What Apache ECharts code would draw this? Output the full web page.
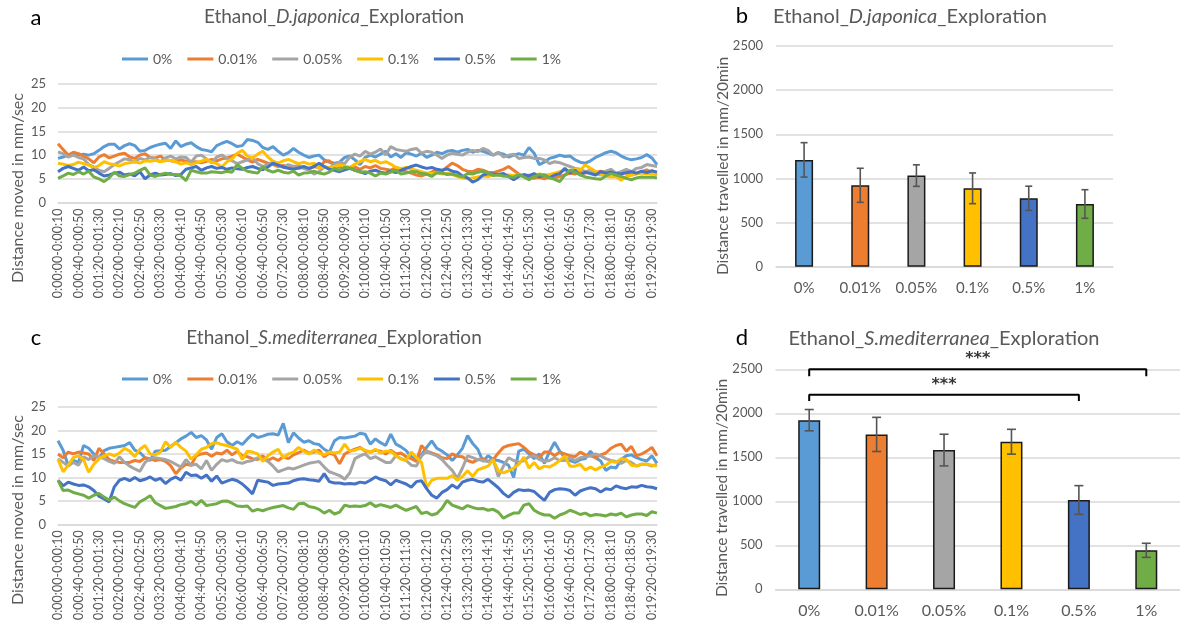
<!DOCTYPE html>
<html><head><meta charset="utf-8">
<script src="https://cdn.jsdelivr.net/npm/echarts@6/dist/echarts.min.js"></script>
<style>html,body{margin:0;padding:0;background:#fff}#c{width:1180px;height:623px}</style>
</head><body><div id="c"></div>
<script>
const concs = ['0%','0.01%','0.05%','0.1%','0.5%','1%'];
const colors = ['#5B9BD5','#ED7D31','#A5A5A5','#FFC000','#4472C4','#70AD47'];
const yTicksLine = [0,5,10,15,20,25];
const yTicksBar = [0,500,1000,1500,2000,2500];

// Panel a: D. japonica, mm/sec per 10 s bin
const a_0 = [9.3,9.6,10,10,10,10.2,10,10.3,11,11.8,12.3,12.3,11.3,12,12.4,12,10.8,11,11.6,12,12.3,12.5,11.4,13,11.8,12.3,12.6,11.8,11.2,11,10.7,12,12.5,12.9,12.4,11.8,12,13.3,13.1,12.7,11.6,11.2,11.8,10.8,10,10.5,11.4,10.6,10,9.5,9.8,10,9,8.5,8.3,8.5,9.5,9.8,9,8,9.5,10,9.6,10.2,10.8,9.6,10.3,9.5,10.5,10.2,9.8,10.4,9.5,10,10.6,10.3,10.8,11,10.6,11,11.2,10.6,11,10.8,10.4,10,10.5,10.2,9.6,10,10.3,10,11.6,10.4,8,8.5,9.3,9.6,10,9.7,9.8,9,8.5,8.3,8.8,9.5,10,10.5,10.8,10.5,9.8,9.3,9,9.2,9.5,10.1,9.4,8];
const a_001 = [12.4,11.2,10,10.6,10.3,9.8,9.2,8.4,9.6,10.1,9.4,9.8,10.2,10.4,9.6,9.3,10,10.3,9.5,9.4,9.8,9,8.8,8.6,9,8.7,8.4,8.6,8.4,8.7,9.1,8.8,9.2,9.4,9.8,10.2,9.6,9,8.5,9.1,8.7,8.3,8,7.6,7.8,7.4,7.5,7.2,7.4,7,7.6,7.3,8.6,8.8,7.8,7.5,7.6,7.2,7.5,7,7.6,7.3,7.8,7.2,7,6.8,7.4,6.9,6.5,6.2,5.8,5.6,6,6.4,7,6.6,7.5,8.3,7.8,7,6.6,6.5,7,6.8,6.4,6.3,6.6,7,7.6,6.8,6,5.6,5.3,5.1,5.3,5,5.4,5.2,5.5,5.8,6.2,6,6.4,6.2,6.5,6.3,6.6,6.4,6.2,6,6.4,6.2,5.8,6.1,6.5,6.9,6.3,5.8];
const a_005 = [10.7,10.3,9.6,10,9.5,9.2,8,7.5,6.8,6.5,7.2,8,8.6,9.2,9,8.5,9.3,9,9.5,9.2,8.6,9.4,9.8,9.2,9.6,9.5,8.5,9.8,10,9.2,8.4,9.6,10,9.3,8.8,8.2,8.6,9,9.5,8.2,7.6,8,8.6,7.8,7.4,8,7.6,7.8,7.2,6.8,6,6.5,7.5,7.3,8,8.5,8.2,9.6,10.2,9.8,10.8,10.2,10.6,11.3,10,11.8,11.2,11,10.8,11.2,11.4,10.4,10.8,10.6,10,9.3,10,10.4,10.2,10,10.6,11,10.7,11.4,11,10,10.6,9.6,10,10.2,9.3,9.5,9.6,9.3,9.3,9,8.2,8.6,8.4,8,7.6,7.2,7,6.5,6.8,6.2,5.8,6.6,7,6.2,6.5,7,6.5,7.2,7.4,8,7.8,7.6];
const a_01 = [8.3,8.1,7.8,8,8.5,8.2,7.9,7.3,7.8,8.6,8.2,8,7.7,8.2,8.4,8.6,8.3,8.8,8.7,8.9,8.6,8.8,8.9,8.6,8.1,8.4,8,8.4,8.7,9.1,8.5,8.2,7.5,8.6,9.2,10.4,11,9.8,9.4,10.2,10.8,9.6,8.7,8.3,8.8,9.1,8.6,8.2,8.5,8.1,8.3,7.2,7.6,7.3,7.6,7.9,7.7,7.4,8.1,8.6,9.1,8.6,8.9,8.3,8.6,8.1,7.4,7.2,7.4,7,6.8,6.5,6.2,6.1,6.3,6,6.2,5.9,5.5,5.2,5,5.2,5.4,5.6,5.5,5.8,5.9,5.6,5.8,5.7,5.9,5.6,5.8,5.7,6,5.8,5.9,6.2,6.5,6.8,6.6,7,6.8,7.9,7.2,6.6,6,5.6,5.4,5.5,4.7,5.5,5.8,6,6.2,6,6.1,5.9];
const a_05 = [6.5,7.2,7.6,7.2,6.8,7.5,6.7,6.9,6.2,5.6,5.8,6.2,6.4,5.8,6,5.6,6.5,5,5.8,6.2,5.8,5.9,6.1,5.7,5.9,7,7.3,7.6,6.8,7.3,7.6,7.2,7.4,7,7.3,7.1,7,7.4,7.6,7.2,6.9,7.5,8.3,7.9,7.5,7.2,7,7.3,7.6,7.2,7.6,8.3,7.6,7,6.8,6.5,6.9,7.2,6.8,6.5,6.1,6.6,6.8,6.4,6.2,6.6,6.3,6.8,7.2,7.6,7.9,7.5,7.2,7.4,7,6.8,7.1,6.6,6.4,5.6,5.2,4.3,4.8,5.8,6.1,6,5.9,6.1,5.5,4.8,5.5,5.9,5.6,6.1,5.4,5.8,5.2,5.8,6.1,7.2,6.2,6.8,5.8,6.4,6.1,5.8,6.5,6.2,6.4,6.1,6,6.3,6.5,6.2,6.6,6.3,6.7,6.4];
const a_1 = [5.1,5.6,6.2,5.9,6.5,6,6.6,5.4,5,4.4,5.2,6.4,5.6,5.5,5.9,6.2,6.8,7.3,5.8,5.5,5.9,6.2,5.9,5.9,5.6,4.6,6.8,6.5,6.2,6.2,6.5,6.4,6.3,6.6,6.4,8,7.2,6.6,6.4,6.2,7.5,6.8,6.4,6.8,6.4,6.2,6.6,5.8,6.2,6.3,6.6,6.2,6,6.4,7.2,6.8,7.4,7.3,6.8,6.4,6.5,6.2,5.6,6.2,6,6.4,6.8,6,6.2,6.5,6.5,6.1,6,5.5,6.3,6.2,5.9,6,5.7,5.4,6.1,6,6.4,6.6,6.2,5.7,5.8,5.6,5.5,5.3,5.9,5.4,4.8,5.5,5.9,5.7,5.2,4.9,4.4,5.8,6.8,6.4,5.8,5.4,5.2,5,4.9,5.6,6.1,5.8,5.5,5.1,4.8,5.2,5.4,5.3,5.4,5.2];

// Panel c: S. mediterranea, mm/sec per 10 s bin
const c_0 = [17.8,15.8,12.5,13.6,13.2,16.8,16.2,15,14,15.7,16.2,16.4,16.6,16.8,17.4,15.8,15.3,14.2,13.6,15.6,15.7,15.8,16.6,17.4,18.2,18.8,19.6,18.5,18.9,18,16,18.5,19.3,17.6,16.8,17.6,17,18.2,19.2,18.5,18.8,19.2,19.3,19,21.5,17.4,19.5,18.4,17.5,17.8,17.2,17,16,15.4,17.8,18.5,18.4,18.6,18.8,19.4,19.2,17.1,18.2,17.4,16.8,19.2,17.1,16.5,15.7,14.4,13.8,14.8,16.4,17.8,16.2,15.6,14.8,13.6,14.8,16.2,18.9,17.2,16,13.4,14.6,13.8,13.6,13.2,12.6,10,15.6,16,15,14,15,13,15.5,17.5,15.6,14.2,13.6,13.2,13.8,14,15.6,14.2,13.5,11.5,12.2,12,13.8,14.6,14.8,14.2,13.8,13.5,14.6,13];
const c_001 = [15,14.2,15.4,15,15.4,15.2,15,13.6,16.2,15,13.8,13.4,13.2,13.2,13.2,13.6,13.4,14.2,14,13.6,13.8,13.4,12.5,10.8,12,12.8,12.6,14.6,15,15.2,14.5,15.2,15,15.8,14.8,15.6,14.6,14.4,14,13.8,14.6,13.6,14.2,13.6,14.4,14,14.8,15.3,15.8,15.2,15.4,15.8,14.4,15.2,14.8,12.9,15,15.6,16,16.4,15.6,15.4,15.8,15.6,15,15.8,15,15.2,14.4,14,13.4,16.8,15.6,15.2,14.8,14.2,14,15,14.5,14.4,13.6,13.2,13.8,14,13.4,13.8,15.2,16.4,16.8,17,17.2,16.4,15.4,14.8,14.2,15.4,15.4,14.6,15.4,15,14.6,14.4,15.4,14.8,14.6,14.2,14.8,15.2,16.2,16.8,17.1,15.6,16.6,14.6,15,15.6,16.4,14.6];
const c_005 = [14,13.2,12.4,13.2,12.6,14.4,13.8,14.6,14.4,14,13.4,13,14.4,13.2,12.4,11.8,11.3,13.2,14,14.2,14,13.8,13.4,12.8,12.2,13.8,12.6,12.8,11.8,13.6,11.5,12.8,13.8,13.4,13.8,13.2,13,13.4,13.6,14.2,14,13.4,12.4,11.2,11.6,12,11.8,12.2,12.6,13,13.2,13.4,12.2,11.2,10.8,10.4,9.6,11,14,14.6,15,14,14.4,13.8,13.2,13.2,14.6,14,13.6,12.6,12.4,14.6,15.6,15,14.6,13.8,12.6,11.5,9.8,12,14.6,14.2,13.8,13.6,13.4,13.8,10.2,12.4,14.2,13.6,13.2,13.6,14.4,14.6,13.8,13.4,13.6,14.2,13.6,13.6,14.2,13.6,14.2,14.4,14.6,15,14.6,14,13.6,13.4,13,13.6,13.2,12.4,12.8,12.8,12.4,12.8];
const c_01 = [13.9,11.2,12.6,14.2,14.6,13.8,11.1,12.8,14,14.6,15,14.6,15.2,16.2,15.6,14.4,16,16.8,15,14.8,15.4,17.6,16.4,17.5,16.4,15.6,13.9,14.8,16,16.4,17.2,17.4,17,16.8,16.4,16,13.8,15.6,15.4,15,13.4,14.6,15.4,16,14.2,15,15.4,16.4,15.6,15,15.8,15.2,14.8,15.4,15.2,15.4,17.1,15.6,15.8,16.2,15.8,15.4,16,15.2,15.6,15.6,14.6,13.9,13.6,15.4,14.2,13.2,7.8,9.4,9.8,9.8,9.8,10.4,9.4,10.2,11.4,10.2,11.6,12,12.4,13.8,11.4,11,11.4,12,12.8,14.3,12,13.2,11.8,12.4,12.2,12.8,13.6,14.6,12.4,12.4,12.8,11.6,12.2,11.6,12.2,12.6,13.4,13.2,14,13.8,12.6,12.4,12.8,12.8,12.6,12.4];
const c_05 = [9.4,8.2,9,8.6,8.3,8.4,8,7.2,6,5.4,4.8,8,9.4,9.8,9.3,10,9.3,9.6,10.1,9.4,9.8,8.7,9.6,10.1,9.4,11.1,10.4,10.5,9.8,10.5,9.2,10.3,8.8,9.2,9.6,9.3,8.6,7.6,6.5,9.4,9.2,9,8.3,8.6,8.7,8.8,9.3,9.6,9.7,9.5,9.4,9.2,10.8,9.1,8.8,8.8,8.6,8.7,8.6,9,8.8,9.4,10.1,9.6,9.3,8.4,9.4,9,8.6,7.9,9.1,9.3,7.6,6.2,5.6,6.8,7.4,8.4,7.7,9,9.4,9.6,9.2,9,9.6,8.7,7.8,6.6,5.8,6.8,7.4,7.2,7.3,7,6,5.1,6.8,7.4,7.6,7.5,7.2,6.2,7.1,7.5,7.8,7.6,6.9,7.6,7.4,8.2,7.8,7.6,8,7.9,8.3,8,7.9,7.6];
const c_1 = [9.4,7.2,7.3,6.8,6.5,6.2,5.6,6.2,6.6,5.8,5.2,5.8,5,4.4,4,3.6,4.8,5.4,6.1,4.6,4,3.4,3.6,3.8,4.2,4.4,4.9,4.1,5.1,4,4.2,4.4,4.9,5,4.5,3.9,3.8,3.9,2.8,3.2,2.9,3.3,3.6,3.8,4,3.5,3.2,4.4,4.5,3.8,3.6,3.2,2.4,3,2.2,2.6,4.1,3.8,3.9,3.8,4,4.6,3.8,4.2,3.9,3.6,4.1,3.5,3,3.4,3.8,2.3,2.6,2,2.3,3.4,5.1,4.1,3.7,3.3,4,3.6,3.3,3.4,3,3.2,2.6,1.3,1.9,2.4,2.4,4.1,4.4,3,2.4,2,2,1.3,2,2.4,3,2.6,2.1,2.4,1.8,2.1,2,1.8,2.2,2,2.4,1.6,2,2.2,2.2,1.9,2.7,2.4];

// Panel b / d: total distance in mm/20min, mean and error
const b_mean = [1210,922,1032,888,775,710];
const b_err  = [195,193,122,174,137,162];
const d_mean = [1922,1760,1582,1677,1015,443];
const d_err  = [121,194,180,141,163,80];
// significance brackets in d: [from index, to index, level, label]
const d_sig = [[0,5,2500,'***'],[0,4,2210,'***']];

function fmt(s){const m=Math.floor(s/60),x=s%60;return '0:'+String(m).padStart(2,'0')+':'+String(x).padStart(2,'0');}
const timeCats = a_0.map((_,i)=>fmt(i*10)+'-'+fmt(i*10+10));

const FONT = 'Lato';
const GRAY = '#595959';
const GRID = '#d9d9d9';
const seriesA = [a_0,a_001,a_005,a_01,a_05,a_1];
const seriesC = [c_0,c_001,c_005,c_01,c_05,c_1];

const chart = echarts.init(document.getElementById('c'), null, {renderer:'canvas'});

function lineX(gi){return {gridIndex:gi,type:'category',data:timeCats,boundaryGap:false,
  axisLine:{lineStyle:{color:GRID,width:1.5}},axisTick:{show:false},
  axisLabel:{rotate:90,interval:3,fontSize:12.5,color:GRAY,fontFamily:FONT,margin:6},splitLine:{show:false}};}
function lineY(gi){return {gridIndex:gi,type:'value',min:yTicksLine[0],max:yTicksLine[yTicksLine.length-1],interval:5,
  axisLine:{show:false},axisTick:{show:false},axisLabel:{fontSize:13,color:GRAY,fontFamily:FONT,margin:12},
  splitLine:{lineStyle:{color:GRID,width:1.5}}};}
function barX(gi,fs){return {gridIndex:gi,type:'category',data:concs,
  axisLine:{lineStyle:{color:GRID,width:1.5}},axisTick:{show:false},
  axisLabel:{fontSize:fs,color:GRAY,fontFamily:FONT,margin:14}};}
function barY(gi){return {gridIndex:gi,type:'value',min:yTicksBar[0],max:yTicksBar[yTicksBar.length-1],interval:500,
  axisLine:{show:false},axisTick:{show:false},axisLabel:{fontSize:13,color:GRAY,fontFamily:FONT,margin:13,formatter:v=>String(v)},
  splitLine:{lineStyle:{color:GRID,width:1.5}}};}

const series = [];
seriesA.forEach((d,k)=>series.push({type:'line',name:concs[k],xAxisIndex:0,yAxisIndex:0,data:d,symbol:'none',
  lineStyle:{width:3,color:colors[k]},itemStyle:{color:colors[k]},silent:true}));
seriesC.forEach((d,k)=>series.push({type:'line',name:concs[k],xAxisIndex:1,yAxisIndex:1,data:d,symbol:'none',
  lineStyle:{width:3,color:colors[k]},itemStyle:{color:colors[k]},silent:true}));

function bars(xi,yi,mean,bw){return {type:'bar',name:'bars'+xi,xAxisIndex:xi,yAxisIndex:yi,barWidth:bw,
  data:mean.map((v,i)=>({value:v,itemStyle:{color:colors[i]}})),
  itemStyle:{borderColor:'#1a1a1a',borderWidth:1.5},silent:true};}
function errs(xi,yi,mean,err,cap){return {type:'custom',xAxisIndex:xi,yAxisIndex:yi,z:10,silent:true,
  data:mean.map((m,i)=>[i,m-err[i],m+err[i]]),
  renderItem:(p,api)=>{const x=api.value(0);const lo=api.coord([x,api.value(1)]);const hi=api.coord([x,api.value(2)]);
    const st={stroke:'#555',lineWidth:1.6};
    return {type:'group',children:[
      {type:'line',shape:{x1:lo[0],y1:lo[1],x2:hi[0],y2:hi[1]},style:st},
      {type:'line',shape:{x1:lo[0]-cap,y1:lo[1],x2:lo[0]+cap,y2:lo[1]},style:st},
      {type:'line',shape:{x1:hi[0]-cap,y1:hi[1],x2:hi[0]+cap,y2:hi[1]},style:st}]};}};}
series.push(bars(2,2,b_mean,18), errs(2,2,b_mean,b_err,3.5));
series.push(bars(3,3,d_mean,22), errs(3,3,d_mean,d_err,4.5));
d_sig.forEach(s=>{
  const [f,t,lv,lab]=s; const drop=lv*0.032;
  series.push({type:'line',xAxisIndex:4,yAxisIndex:3,data:[[f,lv-drop],[f,lv],[t,lv],[t,lv-drop]],symbol:'none',clip:false,
    lineStyle:{color:'#000',width:2},silent:true,z:12});
  series.push({type:'scatter',xAxisIndex:4,yAxisIndex:3,data:[[(f+t)/2,lv]],symbolSize:0,clip:false,silent:true,z:12,
    label:{show:true,formatter:lab,position:'top',distance:2,color:'#000',fontSize:16,fontWeight:'bold',fontFamily:'DejaVu Sans'}});
});

function rot(x,y,t,fs){return {type:'text',x:x,y:y,rotation:Math.PI/2,
  style:{text:t,fontSize:fs,fontFamily:FONT,fill:GRAY,align:'center',verticalAlign:'middle'}};}
function ttl(x,y,sp,fs){return {type:'text',x:x,y:y,
  style:{text:'{n|Ethanol_}{i|'+sp+'}{n|_Exploration}',align:'center',verticalAlign:'middle',
    rich:{n:{fontSize:fs,fontFamily:FONT,fill:GRAY,color:GRAY},i:{fontSize:fs,fontFamily:FONT,fontStyle:'italic',fill:GRAY,color:GRAY}}}};}
function letter(x,y,t){return {type:'text',x:x,y:y,style:{text:t,fontSize:22,fontFamily:FONT,fill:'#000',align:'center',verticalAlign:'middle'}};}

function legend(top){return {top:top,left:117,icon:'rect',itemWidth:26,itemHeight:3,itemGap:15,
  data:concs,textStyle:{fontSize:14,color:GRAY,fontFamily:FONT},selectedMode:false};}

chart.setOption({
  animation:false,
  textStyle:{fontFamily:FONT},
  grid:[
    {left:58,top:84,width:599,height:118.5},
    {left:58,top:407,width:599,height:118},
    {left:776,top:46,width:337,height:220.7},
    {left:775.5,top:369.3,width:405,height:220}
  ],
  legend:[legend(47),legend(367)],
  xAxis:[lineX(0),lineX(1),barX(2,15),barX(3,16),
    {gridIndex:3,type:'value',min:-0.5,max:5.5,show:false}],
  yAxis:[lineY(0),lineY(1),barY(2),barY(3)],
  series:series,
  graphic:[
    letter(36,18,'a'),letter(742,16,'b'),letter(36,338,'c'),letter(742,338,'d'),
    ttl(334,17,'D.japonica',19),ttl(910,17,'D.japonica',20),ttl(334,338,'S.mediterranea',19),ttl(944,339,'S.mediterranea',20),
    rot(18,188,'Distance moved in mm/sec',16),rot(18,510,'Distance moved in mm/sec',16),
    rot(723,166,'Distance travelled in mm/20min',15.5),rot(722,488,'Distance travelled in mm/20min',15.5)
  ]
});
</script></body></html>
